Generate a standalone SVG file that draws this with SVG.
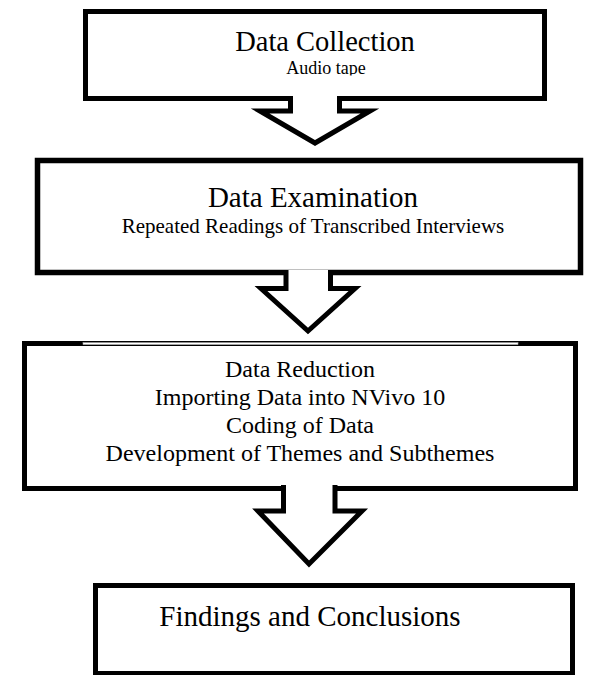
<svg xmlns="http://www.w3.org/2000/svg" width="598" height="675" viewBox="0 0 598 675">
  <style>
    .box { fill: #ffffff; stroke: #000000; stroke-width: 5; }
    .arrow { fill: #ffffff; stroke: #000000; stroke-width: 5; stroke-linejoin: miter; stroke-miterlimit: 10; }
    text { font-family: "Liberation Serif", "Times New Roman", serif; fill: #000000; text-anchor: middle; }
    .t1 { font-size: 28.5px; }
    .t1b { font-size: 29px; }
    .t2 { font-size: 18px; }
    .t3 { font-size: 21px; }
    .t4 { font-size: 24px; }
  </style>
  <defs>
    <clipPath id="clip1"><rect x="86" y="12" width="458" height="63.5"/></clipPath>
  </defs>
  <rect x="0" y="0" width="598" height="675" fill="#ffffff"/>

  <g id="node-collection">
    <rect class="box" x="85.5" y="11.5" width="459" height="87"/>
    <text class="t1" x="325" y="51">Data Collection</text>
    <text class="t2" x="326" y="74" clip-path="url(#clip1)">Audio tape</text>
  </g>

  <g id="node-examination">
    <rect class="box" x="37.5" y="160.5" width="543" height="112" style="stroke-width:5.5"/>
    <text class="t1b" x="313" y="207">Data Examination</text>
    <text class="t3" x="313" y="233">Repeated Readings of Transcribed Interviews</text>
  </g>

  <g id="node-reduction">
    <rect class="box" x="24.5" y="343.5" width="551" height="145"/>
    <rect x="83" y="342.6" width="435" height="2" fill="#ffffff" stroke="#aaaaaa" stroke-width="0.6"/>
    <text class="t4" x="300" y="377">Data Reduction</text>
    <text class="t4" x="300" y="405">Importing Data into NVivo 10</text>
    <text class="t4" x="300" y="433">Coding of Data</text>
    <text class="t4" x="300" y="461">Development of Themes and Subthemes</text>
  </g>

  <g id="node-findings">
    <rect class="box" x="95.5" y="585.5" width="477" height="88"/>
    <text class="t1b" x="310" y="626">Findings and Conclusions</text>
  </g>

  <g id="connectors">
    <path class="arrow" d="M290.5,96 V111 H260 L315,143 L370,111 H339.5 V96"/>
    <path class="arrow" d="M286,270 V288.5 H261 L308,331 L355,288.5 H330.5 V270"/>
    <path class="arrow" d="M283.5,485 V511 H258 L309,564 L362,511 H335 V485"/>
  </g>
</svg>
